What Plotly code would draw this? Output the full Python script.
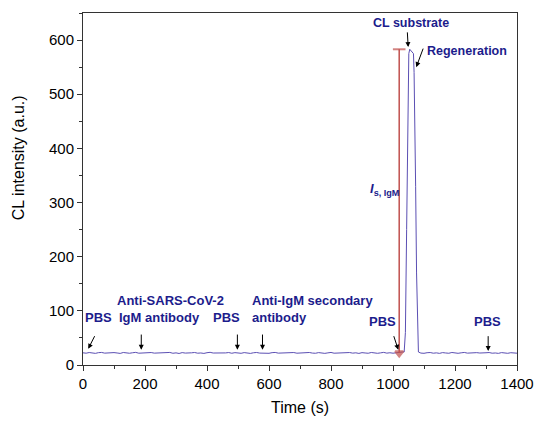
import plotly.graph_objects as go

# ---- data ----
base_t1 = list(range(0, 1040, 10))
base_v1 = [22.5, 21.8, 23.0, 22.1, 21.5, 22.8, 23.2, 21.9, 22.4, 21.6,
           22.9, 22.2, 21.4, 23.1, 22.0, 21.7, 22.6, 23.3, 21.8, 22.3,
           21.5, 22.7, 23.0, 21.9, 22.2, 21.6, 22.8, 22.1, 23.2, 21.7,
           22.4, 21.3, 22.9, 22.0, 21.6, 22.5, 23.1, 21.8, 22.2, 21.4,
           22.7, 23.4, 22.1, 21.9, 22.6, 21.5, 22.3, 23.0, 21.7, 22.8,
           22.0, 21.6, 22.9, 22.3, 21.4, 22.6, 23.1, 22.0, 21.8, 22.5,
           21.6, 22.8, 23.2, 21.9, 22.1, 21.5, 22.7, 22.4, 23.0, 21.8,
           22.2, 21.3, 22.6, 23.1, 22.0, 21.7, 22.9, 22.3, 21.5, 22.4,
           23.2, 21.8, 22.1, 21.6, 22.7, 22.0, 23.0, 21.9, 22.5, 21.4,
           22.8, 22.2, 21.7, 23.1, 22.0, 21.6, 22.4, 23.3, 21.9, 22.6,
           21.8, 22.9, 23.4, 24.0]
peak_t = [1036, 1040, 1044, 1048, 1051, 1054, 1058, 1062, 1066, 1068,
          1070, 1073, 1076, 1079, 1082]
peak_v = [24, 60, 250, 480, 575, 583, 580, 578, 575, 540,
          480, 330, 170, 60, 24]
base_t2 = list(range(1090, 1410, 10))
base_v2 = [22.0, 21.6, 22.7, 23.0, 21.8, 22.4, 21.5, 22.9, 22.2, 21.7,
           23.1, 22.0, 21.6, 22.5, 23.2, 21.9, 22.3, 21.4, 22.8, 22.1,
           21.7, 22.6, 23.0, 21.8, 22.2, 21.5, 22.9, 22.4, 21.6, 22.7,
           22.0, 21.8]

time = base_t1 + peak_t + base_t2
intensity = base_v1 + peak_v + base_v2

signal_t = [1020, 1020]
signal_v = [583, 22]

x_ticks = [0, 200, 400, 600, 800, 1000, 1200, 1400]
y_ticks = [0, 100, 200, 300, 400, 500, 600]

label_color = "#1c1c8c"
line_color = "#5b4fb3"
FONT = "Liberation Sans, Arial"

fig = go.Figure()
fig.add_trace(go.Scatter(x=time, y=intensity, mode="lines",
                         line=dict(color=line_color, width=1), showlegend=False))
fig.add_trace(go.Scatter(x=signal_t, y=signal_v, mode="lines+markers",
                         line=dict(color="#c0504d", width=1.5),
                         marker=dict(symbol=["line-ew", "triangle-down"], size=[9, 7],
                                     color="#c0504d",
                                     line=dict(color="#c0504d", width=2)),
                         showlegend=False))


def txt(x, y, s, xanchor="center", size=12.5):
    fig.add_annotation(x=x, y=y, text=s, showarrow=False, xanchor=xanchor,
                       yanchor="middle", font=dict(family=FONT, size=size, color=label_color),
                       align="left")

def arr(x0, y0, x1, y1):
    fig.add_annotation(x=x1, y=y1, ax=x0, ay=y0, axref="x", ayref="y",
                       xref="x", yref="y", text="", showarrow=True,
                       arrowhead=2, arrowsize=1, arrowwidth=1, arrowcolor="black")

txt(51, 87, "<b>PBS</b>", size=13)
arr(40, 56, 17, 30)
txt(104, 120, "<b>Anti-SARS-CoV-2</b>", "left", size=13)
txt(110, 87, "<b>IgM antibody</b>", "left", size=13)
arr(188, 59, 188, 28)
txt(463, 87, "<b>PBS</b>", size=13)
arr(498, 59, 498, 28)
txt(540, 120, "<b>Anti-IgM secondary</b>", "left", size=13)
txt(540, 87, "<b>antibody</b>", "left", size=13)
arr(579, 59, 579, 28)
txt(966, 80, "<b>PBS</b>", size=13)
arr(1001, 56, 1017, 28)
txt(1304, 80, "<b>PBS</b>", size=13)
arr(1307, 56, 1307, 26)
txt(1059, 631, "<b>CL substrate</b>")
arr(1046, 617, 1049, 587)
txt(1102, 580, "<b>Regeneration</b>", "left")
arr(1099, 587, 1075, 550)
txt(974, 324, "<b><i>I</i><sub>s, IgM</sub></b>", size=13)

# y-axis title placed as an annotation (it sits above the axis centre in the reference)
fig.add_annotation(xref="paper", yref="paper", x=-0.15, y=0.59, text="CL intensity (a.u.)",
                   textangle=-90, showarrow=False, xanchor="center", yanchor="middle",
                   font=dict(family=FONT, size=16, color="#000"))

axis_common = dict(showline=True, linecolor="#333", linewidth=1, mirror=True,
                   ticks="outside", ticklen=5, tickcolor="#333", showgrid=False,
                   zeroline=False, automargin=False,
                   tickfont=dict(family=FONT, size=15, color="#000"),
                   minor=dict(ticks="outside", ticklen=3, tickcolor="#333"))

fig.update_xaxes(range=[0, 1400], tickvals=x_ticks, ticktext=[str(v) for v in x_ticks],
                 minor_dtick=100, minor_tick0=0,
                 title=dict(text="Time (s)", font=dict(family=FONT, size=16, color="#000"),
                            standoff=10),
                 **axis_common)
fig.update_yaxes(range=[0, 650], tickvals=y_ticks, ticktext=[str(v) for v in y_ticks],
                 minor_dtick=50, minor_tick0=0,
                 **axis_common)

fig.update_layout(width=536, height=423, margin=dict(l=83, r=19, t=13, b=58),
                  plot_bgcolor="white", paper_bgcolor="white")

# remove the browser's default 8px page margin so the figure fills the window
fig.write_html("out.html", config={"displayModeBar": False},
               post_script="document.body.style.margin='0';document.body.style.overflow='hidden';")
